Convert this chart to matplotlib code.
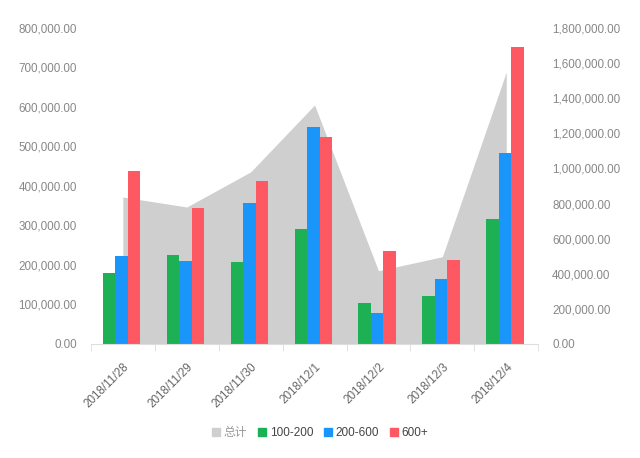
import numpy as np
import matplotlib
matplotlib.use("Agg")
import matplotlib.pyplot as plt
from matplotlib.ticker import FuncFormatter, FixedLocator
from matplotlib.patches import Patch

plt.rcParams['font.family'] = ['Liberation Sans', 'Noto Sans CJK SC']

# data
dates = ["2018/11/28", "2018/11/29", "2018/11/30", "2018/12/1",
         "2018/12/2", "2018/12/3", "2018/12/4"]
v_100_200 = [179000, 226000, 207000, 291000, 103000, 122000, 316000]
v_200_600 = [223000, 209000, 357000, 549000, 78000, 164000, 483000]
v_600_up = [438000, 344000, 412000, 524000, 236000, 213000, 751000]
total = [837000, 780000, 980000, 1361000, 417000, 497000, 1549000]

c_gray = "#d0cfd0"
c_green = "#1db054"
c_blue = "#1a96fa"
c_red = "#fe5862"
c_text = "#888888"

fig = plt.figure(figsize=(6.4, 4.58), dpi=100)
ax = fig.add_axes([0.142, 0.249, 0.699, 0.690])
ax2 = ax.twinx()

x = np.arange(len(dates))

# total area on the right axis
ax2.fill_between(x, total, 0, color=c_gray, linewidth=0)
ax2.set_ylim(0, 1800000)
ax2.set_yticks(np.arange(0, 1800001, 200000))

# bars on the left axis
w = 0.195
ax.bar(x - w - 0.02, v_100_200, w, color=c_green)
ax.bar(x - 0.02, v_200_600, w, color=c_blue)
ax.bar(x + w - 0.02, v_600_up, w, color=c_red)
ax.set_ylim(0, 800000)
ax.set_yticks(np.arange(0, 800001, 100000))
ax.set_xlim(-0.5, len(dates) - 0.5)

ax.set_zorder(ax2.get_zorder() + 1)
ax.patch.set_visible(False)

fmt = FuncFormatter(lambda v, p: "{:,.2f}".format(v))
for a in (ax, ax2):
    a.yaxis.set_major_formatter(fmt)
    for s in a.spines.values():
        s.set_visible(False)
    a.tick_params(axis='y', length=0, labelsize=8.4, labelcolor=c_text, pad=10)

ax.spines['bottom'].set_visible(True)
ax.spines['bottom'].set_color("#dddddd")
ax.set_xticks(x)
ax.set_xticklabels(dates, rotation=45, ha='right', rotation_mode='anchor')
ax.tick_params(axis='x', length=0, labelsize=8.4, labelcolor="#666666", pad=12)
ax.xaxis.set_minor_locator(FixedLocator(np.arange(-0.5, len(dates), 1.0)))
ax.tick_params(axis='x', which='minor', length=5, color="#dddddd")
ax2.tick_params(axis='x', length=0)

handles = [Patch(color=c_gray, label="总计"),
           Patch(color=c_green, label="100-200"),
           Patch(color=c_blue, label="200-600"),
           Patch(color=c_red, label="600+")]
leg = fig.legend(handles=handles, loc='center', bbox_to_anchor=(0.5, 0.055),
                 ncol=4, frameon=False, fontsize=8.5, handlelength=0.7,
                 handleheight=0.7, handletextpad=0.3, columnspacing=0.9)
leg.get_texts()[0].set_color("#999999")
for t in leg.get_texts()[1:]:
    t.set_color("#444444")

fig.savefig("out.png", dpi=100)
